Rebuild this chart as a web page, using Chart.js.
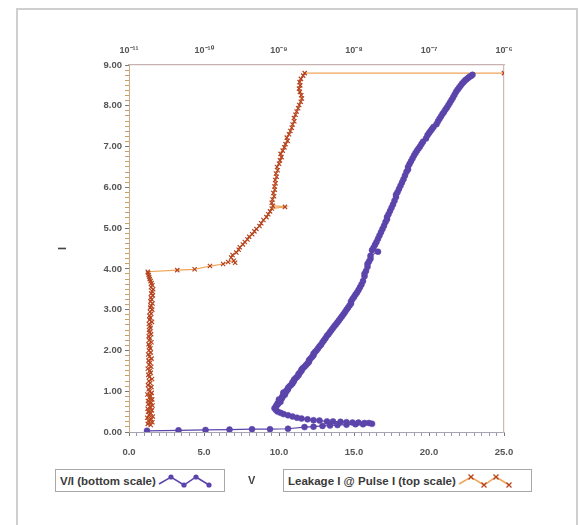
<!DOCTYPE html>
<html>
<head>
<meta charset="utf-8">
<script src="https://cdn.jsdelivr.net/npm/chart.js@4.4.1/dist/chart.umd.min.js"></script>
<style>
  body { margin: 0; width: 587px; height: 525px; overflow: hidden; background: #fff; position: relative; }
  .frame { position: absolute; left: 16px; top: 8px; width: 558px; height: 540px; border: 2px solid #cfcfcf; }
  #chart { position: absolute; left: 0; top: 0; }
  .legend-box {
    position: absolute; top: 469px; height: 23px; border: 1px solid #a8a8a8; background: #fff;
    font: bold 11.5px 'Liberation Sans Narrow', 'Liberation Sans', sans-serif; color: #3a3a3a;
    display: flex; align-items: center; padding-left: 4px; box-sizing: border-box; white-space: nowrap;
  }
  .axis-title {
    position: absolute; left: 248px; top: 474px;
    font: bold 11px 'Liberation Sans', sans-serif; color: #444;
  }
</style>
</head>
<body>
<div class="frame"></div>
<canvas id="chart" width="587" height="525"></canvas>
<div id="legend"></div>
<script>
// V/I curve (bottom scale): volts, amps
const viVolts = [
  1.2, 3.3, 5.1, 6.7, 8.2, 9.4, 10.6, 11.7, 12.3, 12.9,
  13.4, 13.9, 14.5, 15.1, 15.6, 16.2, 16.0, 15.7, 15.3, 14.9,
  14.5, 14.1, 13.6, 13.2, 12.7, 12.3, 11.9, 11.5, 11.2, 10.9,
  10.6, 10.3, 10.1, 9.9, 9.8, 9.7,
  9.8, 9.9, 9.9, 10.0, 10.1, 10.0, 10.0, 10.2, 10.2, 10.3,
  10.4, 10.3, 10.3, 10.5, 10.5, 10.6, 10.6, 10.7, 10.8, 10.9,
  10.9, 11.0, 11.0, 11.1, 11.2, 11.3, 11.3, 11.4, 11.5, 11.5,
  11.6, 11.7, 11.8, 11.9, 12.0, 12.0, 12.1, 12.2, 12.3, 12.3,
  12.4, 12.5, 12.6, 12.7, 12.8, 12.9, 13.0, 13.1, 13.2, 13.3,
  13.4, 13.5, 13.6, 13.7, 13.8, 13.9, 14.0, 14.1, 14.2, 14.3,
  14.4, 14.5, 14.6, 14.7, 14.8, 14.8, 14.9, 15.0, 15.1, 15.2,
  15.3, 15.4, 15.5, 15.6, 15.7, 15.7, 15.8, 15.9, 15.9, 16.0,
  16.1, 16.1, 16.6, 16.2, 16.3, 16.4, 16.5, 16.6, 16.7, 16.8,
  16.9, 17.0, 17.1, 17.2, 17.2, 17.3, 17.4, 17.5, 17.6, 17.7,
  17.8, 17.8, 17.9, 18.0, 18.1, 18.2, 18.3, 18.4, 18.5, 18.6,
  18.6, 18.7, 18.8, 18.9, 19.0, 19.1, 19.2, 19.3, 19.4, 19.5,
  19.6, 19.8, 19.9, 20.0, 20.1, 20.2, 20.3, 20.5, 20.6, 20.7,
  20.8, 20.9, 21.0, 21.1, 21.2, 21.3, 21.4, 21.5, 21.6, 21.7,
  21.8, 21.9, 22.0, 22.1, 22.2, 22.3, 22.4, 22.5, 22.6, 22.7,
  22.8, 22.9
];
const viAmps = [
  0.03, 0.04, 0.05, 0.06, 0.07, 0.07, 0.08, 0.12, 0.13, 0.15,
  0.16, 0.17, 0.18, 0.19, 0.19, 0.20, 0.22, 0.22, 0.23, 0.23,
  0.24, 0.25, 0.26, 0.26, 0.28, 0.29, 0.31, 0.33, 0.35, 0.38,
  0.41, 0.44, 0.47, 0.50, 0.54, 0.58,
  0.64, 0.67, 0.70, 0.72, 0.74, 0.78, 0.80, 0.83, 0.86, 0.89,
  0.92, 0.95, 0.97, 1.00, 1.02, 1.05, 1.08, 1.12, 1.15, 1.19,
  1.22, 1.25, 1.28, 1.32, 1.35, 1.39, 1.42, 1.46, 1.50, 1.53,
  1.57, 1.60, 1.64, 1.68, 1.72, 1.76, 1.80, 1.84, 1.88, 1.92,
  1.96, 2.00, 2.05, 2.10, 2.14, 2.20, 2.25, 2.30, 2.36, 2.40,
  2.45, 2.50, 2.55, 2.60, 2.64, 2.69, 2.74, 2.79, 2.84, 2.89,
  2.94, 3.00, 3.05, 3.10, 3.15, 3.20, 3.26, 3.31, 3.37, 3.42,
  3.48, 3.55, 3.62, 3.70, 3.82, 3.88, 3.95, 4.05, 4.12, 4.18,
  4.25, 4.32, 4.42, 4.46, 4.52, 4.59, 4.66, 4.74, 4.82, 4.90,
  4.98, 5.06, 5.15, 5.22, 5.27, 5.34, 5.42, 5.50, 5.58, 5.67,
  5.76, 5.82, 5.88, 5.96, 6.04, 6.12, 6.20, 6.29, 6.38, 6.44,
  6.50, 6.57, 6.64, 6.71, 6.78, 6.84, 6.90, 6.95, 7.00, 7.06,
  7.12, 7.20, 7.28, 7.33, 7.38, 7.43, 7.48, 7.55, 7.62, 7.68,
  7.74, 7.80, 7.85, 7.91, 7.96, 8.02, 8.08, 8.14, 8.20, 8.27,
  8.34, 8.39, 8.44, 8.49, 8.54, 8.58, 8.62, 8.65, 8.68, 8.71,
  8.73, 8.76
];

// Leakage current (top log scale) measured after each pulse current
const leakPulse = [
  0.17, 0.20, 0.24, 0.27, 0.31, 0.35, 0.38, 0.42, 0.46, 0.50,
  0.53, 0.57, 0.61, 0.65, 0.69, 0.72, 0.76, 0.80, 0.84, 0.88,
  0.92, 0.96, 1.00, 1.05, 1.10, 1.15, 1.20, 1.25, 1.30, 1.35,
  1.40, 1.45, 1.50, 1.55, 1.60, 1.65, 1.70, 1.75, 1.80, 1.85,
  1.90, 1.95, 2.00, 2.05, 2.10, 2.15, 2.20, 2.25, 2.30, 2.35,
  2.40, 2.45, 2.50, 2.55, 2.60, 2.65, 2.70, 2.75, 2.80, 2.85,
  2.90, 2.95, 3.00, 3.05, 3.10, 3.15, 3.20, 3.25, 3.30, 3.35,
  3.40, 3.45, 3.50, 3.55, 3.60, 3.65, 3.70, 3.75, 3.80, 3.85,
  3.90, 3.93, 3.97, 3.99, 4.07, 4.12, 4.17, 4.20, 4.15, 4.28,
  4.34, 4.40, 4.47, 4.53, 4.60, 4.66, 4.72, 4.79, 4.85, 4.92,
  4.98, 5.05, 5.12, 5.20, 5.27, 5.34, 5.41, 5.48, 5.52, 5.55,
  5.62, 5.70, 5.78, 5.86, 5.94, 6.02, 6.10, 6.18, 6.26, 6.34,
  6.42, 6.50, 6.58, 6.66, 6.74, 6.82, 6.90, 6.98, 7.06, 7.14,
  7.22, 7.30, 7.38, 7.46, 7.54, 7.62, 7.70, 7.78, 7.86, 7.94,
  8.02, 8.10, 8.18, 8.26, 8.34, 8.42, 8.50, 8.58, 8.66, 8.74,
  8.80, 8.80
];
const leakAmps = [
  1.95e-11, 1.78e-11, 2.05e-11, 1.82e-11, 1.98e-11, 1.75e-11, 2.08e-11, 1.85e-11, 1.96e-11, 1.80e-11,
  2.02e-11, 1.77e-11, 1.93e-11, 2.06e-11, 1.81e-11, 1.97e-11, 1.79e-11, 2.04e-11, 1.86e-11, 1.94e-11,
  1.76e-11, 2.01e-11, 1.88e-11, 1.83e-11, 1.99e-11, 1.79e-11, 1.92e-11, 1.84e-11, 2.03e-11, 1.87e-11,
  1.81e-11, 1.95e-11, 1.89e-11, 1.78e-11, 1.98e-11, 1.85e-11, 1.91e-11, 1.82e-11, 2.00e-11, 1.87e-11,
  1.80e-11, 1.96e-11, 1.84e-11, 1.93e-11, 1.88e-11, 1.82e-11, 1.99e-11, 1.86e-11, 1.90e-11, 1.83e-11,
  1.97e-11, 1.89e-11, 1.85e-11, 1.94e-11, 1.91e-11, 1.84e-11, 2.02e-11, 1.88e-11, 1.93e-11, 1.87e-11,
  1.98e-11, 1.90e-11, 2.04e-11, 1.92e-11, 1.96e-11, 2.06e-11, 1.93e-11, 2.01e-11, 1.95e-11, 2.08e-11,
  1.98e-11, 2.03e-11, 2.10e-11, 1.96e-11, 2.05e-11, 2.00e-11, 1.94e-11, 1.89e-11, 1.86e-11, 1.83e-11,
  1.80e-11, 1.78e-11, 4.4e-11, 7.5e-11, 1.2e-10, 1.8e-10, 2.1e-10, 2.5e-10, 2.6e-10, 2.3e-10,
  2.4e-10, 2.7e-10, 2.9e-10, 3.0e-10, 3.3e-10, 3.5e-10, 3.8e-10, 4.0e-10, 4.4e-10, 4.7e-10,
  5.0e-10, 5.5e-10, 5.8e-10, 6.2e-10, 6.8e-10, 7.2e-10, 7.6e-10, 8.0e-10, 1.2e-9, 8.3e-10,
  8.0e-10, 8.2e-10, 8.6e-10, 8.4e-10, 8.8e-10, 8.7e-10, 9.0e-10, 8.9e-10, 9.3e-10, 9.1e-10,
  9.6e-10, 9.4e-10, 1.0e-9, 1.03e-9, 1.08e-9, 1.05e-9, 1.12e-9, 1.18e-9, 1.22e-9, 1.3e-9,
  1.27e-9, 1.36e-9, 1.42e-9, 1.48e-9, 1.52e-9, 1.6e-9, 1.58e-9, 1.66e-9, 1.72e-9, 1.8e-9,
  1.86e-9, 1.95e-9, 2.02e-9, 1.98e-9, 1.9e-9, 1.85e-9, 1.92e-9, 1.88e-9, 1.96e-9, 2.1e-9,
  2.2e-9, 1.0e-6
];

const seriesLabels = ['V/I (bottom scale)', 'Leakage I @ Pulse I (top scale)'];
const xTitle = 'V';
const yTitle = 'I';

const xLabelValues = [0, 5, 10, 15, 20, 25];
const xTickLabels = ['0.0', '5.0', '10.0', '15.0', '20.0', '25.0'];
const yLabelValues = [0, 1, 2, 3, 4, 5, 6, 7, 8, 9];
const yTickLabels = ['0.00', '1.00', '2.00', '3.00', '4.00', '5.00', '6.00', '7.00', '8.00', '9.00'];
const topTickValues = [1e-11, 1e-10, 1e-9, 1e-8, 1e-7, 1e-6];
const topTickLabels = ['10⁻¹¹', '10⁻¹⁰', '10⁻⁹', '10⁻⁸', '10⁻⁷', '10⁻⁶'];

const PURPLE = '#5b44aa';
const ORANGE_LINE = '#efa458';
const ORANGE_MARK = '#b5431f';
const FONT = "'Liberation Sans Narrow', 'Liberation Sans', sans-serif";
const tickFont = { family: FONT, size: 9.5, weight: 'bold' };

// minor tick marks between the labelled values
const minorTicks = (max, step) => (scale) => {
  const ticks = [];
  for (let i = 0; i * step <= max + 1e-9; i++) ticks.push({ value: i * step });
  scale.ticks = ticks;
};

const chart = new Chart(document.getElementById('chart'), {
  type: 'scatter',
  data: {
    datasets: [{
      label: seriesLabels[0],
      data: viVolts.map((v, i) => ({ x: v, y: viAmps[i] })),
      xAxisID: 'x',
      yAxisID: 'y',
      showLine: true,
      borderColor: PURPLE,
      borderWidth: 1.2,
      pointStyle: 'circle',
      pointRadius: 3,
      pointBackgroundColor: PURPLE,
      pointBorderColor: PURPLE,
      pointBorderWidth: 0.5,
    }, {
      label: seriesLabels[1],
      data: leakAmps.map((a, i) => ({ x: a, y: leakPulse[i] })),
      xAxisID: 'x2',
      yAxisID: 'y',
      showLine: true,
      borderColor: ORANGE_LINE,
      borderWidth: 1.2,
      pointStyle: 'crossRot',
      pointRadius: 3,
      pointBorderColor: ORANGE_MARK,
      pointBorderWidth: 1.2,
    }]
  },
  options: {
    responsive: false,
    animation: false,
    layout: {
      padding: { left: 52, right: 83, top: 40, bottom: 33 }
    },
    plugins: {
      legend: { display: false },
      tooltip: { enabled: false }
    },
    scales: {
      x: {
        type: 'linear',
        position: 'bottom',
        min: 0,
        max: 25,
        afterBuildTicks: minorTicks(25, 0.5),
        afterFit: (scale) => { scale.height = 60; },
        ticks: {
          autoSkip: false,
          maxRotation: 0,
          padding: 11,
          color: '#555',
          font: tickFont,
          callback: (value) => {
            const i = xLabelValues.indexOf(value);
            return i >= 0 ? xTickLabels[i] : '';
          }
        },
        grid: {
          drawOnChartArea: false,
          tickLength: 4,
          tickColor: (ctx) => xLabelValues.includes(ctx.tick.value) ? '#777' : '#9d96b0'
        },
        border: { color: '#a9a4b4', width: 1 }
      },
      x2: {
        type: 'logarithmic',
        position: 'top',
        min: 1e-11,
        max: 1e-6,
        afterBuildTicks: (scale) => { scale.ticks = topTickValues.map(v => ({ value: v })); },
        afterFit: (scale) => { scale.height = 25; },
        ticks: {
          autoSkip: false,
          maxRotation: 0,
          padding: 9,
          color: '#555',
          font: { family: FONT, size: 9, weight: 'bold' },
          callback: (value) => {
            const i = topTickValues.findIndex(v => Math.abs(v - value) / v < 1e-6);
            return i >= 0 ? topTickLabels[i] : '';
          }
        },
        grid: { drawOnChartArea: false, drawTicks: false },
        border: { color: '#c7b2b2', width: 1.2 }
      },
      y: {
        type: 'linear',
        position: 'left',
        min: 0,
        max: 9,
        afterBuildTicks: minorTicks(9, 0.125),
        afterFit: (scale) => { scale.width = 77; },
        ticks: {
          autoSkip: false,
          padding: 3,
          color: '#555',
          font: tickFont,
          callback: (value) => {
            const i = yLabelValues.indexOf(value);
            return i >= 0 ? yTickLabels[i] : '';
          }
        },
        grid: {
          drawOnChartArea: false,
          tickLength: 4,
          tickColor: (ctx) => yLabelValues.includes(ctx.tick.value) ? '#777' : '#c9a06a'
        },
        border: { color: '#c9ad86', width: 1 },
        title: {
          display: true,
          text: yTitle,
          color: '#444',
          font: { family: FONT, size: 11, weight: 'bold' },
          padding: { top: 4, bottom: 4 }
        }
      },
      yRight: {
        type: 'linear',
        position: 'right',
        min: 0,
        max: 9,
        afterFit: (scale) => { scale.width = 0; },
        ticks: { display: false },
        grid: { drawOnChartArea: false, drawTicks: false },
        border: { color: '#d2b8b8', width: 1.2 }
      }
    }
  }
});

// boxed legend entries, one per dataset, with the "V" axis title between them
const legendPlaces = [{ left: 55, width: 170 }, { left: 283, width: 249 }];
const legend = document.getElementById('legend');
chart.data.datasets.forEach((ds, i) => {
  const box = document.createElement('div');
  box.className = 'legend-box';
  box.style.left = legendPlaces[i].left + 'px';
  box.style.width = legendPlaces[i].width + 'px';
  const span = document.createElement('span');
  span.textContent = ds.label;
  box.appendChild(span);
  const pts = [[0, 9], [12, 2], [25, 10], [37, 2], [50, 10]];
  let marks = '';
  pts.slice(1).forEach(([x, y]) => {
    if (ds.pointStyle === 'circle') {
      marks += `<circle cx="${x}" cy="${y}" r="2.6" fill="${ds.pointBackgroundColor}"/>`;
    } else {
      marks += `<path d="M${x - 2.5} ${y - 2.5}L${x + 2.5} ${y + 2.5}M${x + 2.5} ${y - 2.5}L${x - 2.5} ${y + 2.5}" stroke="${ds.pointBorderColor}" stroke-width="1.3"/>`;
    }
  });
  box.insertAdjacentHTML('beforeend',
    `<svg width="56" height="14" viewBox="-3 -1 56 14"><polyline points="${pts.map(p => p.join(',')).join(' ')}" fill="none" stroke="${ds.borderColor}" stroke-width="1.5"/>${marks}</svg>`);
  legend.appendChild(box);
});
const vTitle = document.createElement('div');
vTitle.className = 'axis-title';
vTitle.textContent = xTitle;
legend.appendChild(vTitle);
</script>
</body>
</html>
